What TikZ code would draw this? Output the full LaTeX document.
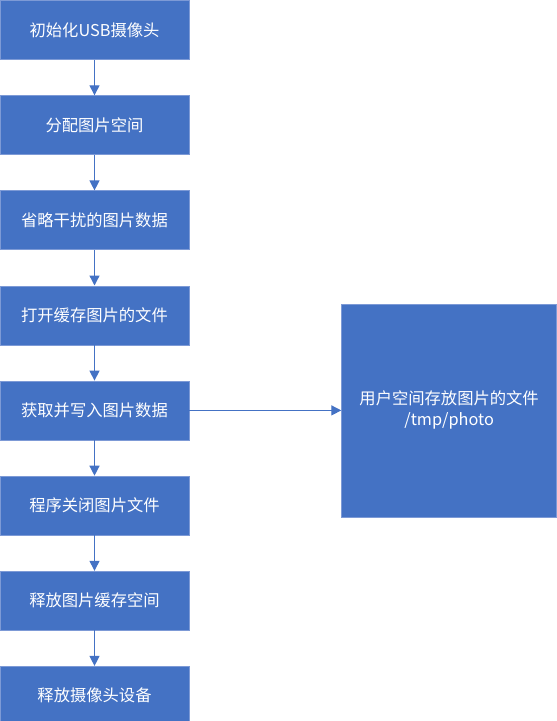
\documentclass[tikz,border=0pt]{standalone}
\usepackage{fontspec}
\newfontfamily\cjk{Noto Sans CJK SC}
\usetikzlibrary{positioning,arrows.meta}
\definecolor{boxblue}{HTML}{4472C4}
\definecolor{boxedge}{HTML}{7D9AD6}
\begin{document}
\begin{tikzpicture}[x=1pt,y=1pt,node distance=35.5pt,
    stepbox/.style={draw=boxedge,line width=0.6pt,fill=boxblue,text=white,
      minimum width=189pt,minimum height=59pt,inner sep=0pt,
      font=\cjk\fontsize{16.3pt}{21pt}\selectfont},
    flow/.style={draw=boxblue,line width=1.3pt,-{Triangle[length=10pt,width=10pt]}}]
    \useasboundingbox (0,0) rectangle (557,-721);
    \node[stepbox] (s1) at (94.5,-30) {初始化USB摄像头};
    \node[stepbox,below=of s1] (s2) {分配图片空间};
    \node[stepbox,below=of s2] (s3) {省略干扰的图片数据};
    \node[stepbox,below=of s3] (s4) {打开缓存图片的文件};
    \node[stepbox,below=of s4] (s5) {获取并写入图片数据};
    \node[stepbox,below=of s5] (s6) {程序关闭图片文件};
    \node[stepbox,below=of s6] (s7) {释放图片缓存空间};
    \node[stepbox,below=of s7] (s8) {释放摄像头设备};
    \node[stepbox,minimum width=215pt,minimum height=213pt,align=center,
      right=152pt of s5] (file) {用户空间存放图片的文件\\/tmp/photo};
    \draw[flow] (s1) -- (s2);
    \draw[flow] (s2) -- (s3);
    \draw[flow] (s3) -- (s4);
    \draw[flow] (s4) -- (s5);
    \draw[flow] (s5) -- (s6);
    \draw[flow] (s6) -- (s7);
    \draw[flow] (s7) -- (s8);
    \draw[flow] (s5) -- (file);
\end{tikzpicture}
\end{document}
